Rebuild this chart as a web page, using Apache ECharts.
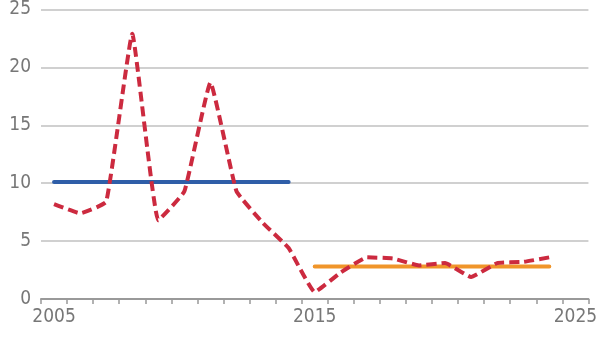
<!DOCTYPE html>
<html><head><meta charset="utf-8">
<script src="https://cdn.jsdelivr.net/npm/echarts@6/dist/echarts.min.js"></script>
<style>html,body{margin:0;padding:0;background:#fff}#c{width:600px;height:337px}</style>
</head><body><div id="c"></div>
<script>
const years = ['2005','2006','2007','2008','2009','2010','2011','2012','2013','2014','2015','2016','2017','2018','2019','2020','2021','2022','2023','2024','2025'];
const annual = [8.2,7.4,8.4,22.9,6.8,9.3,18.7,9.3,6.6,4.4,0.6,2.3,3.6,3.5,2.9,3.1,1.9,3.1,3.2,3.6,null];
const avgFirst = [10.1,10.1,10.1,10.1,10.1,10.1,10.1,10.1,10.1,10.1,null,null,null,null,null,null,null,null,null,null,null];
const avgSecond = [null,null,null,null,null,null,null,null,null,null,2.8,2.8,2.8,2.8,2.8,2.8,2.8,2.8,2.8,2.8,null];
const yTicks = [0,5,10,15,20,25];

const font = '"DejaVu Sans Condensed", "Roboto Condensed", Roboto, sans-serif';
const chart = echarts.init(document.getElementById('c'));
chart.setOption({
  animation: false,
  grid: {left: 41, right: 6, top: 7, bottom: 38},
  xAxis: {
    type: 'category', data: years, boundaryGap: true,
    axisLine: {lineStyle: {color: '#999', width: 2}},
    axisTick: {show: true, length: 5, interval: 0, lineStyle: {color: '#999', width: 1.5}},
    axisLabel: {interval: 9, color: '#777', fontFamily: font, fontSize: 19, margin: 9},
    splitLine: {show: false}
  },
  yAxis: {
    type: 'value', min: yTicks[0], max: yTicks[yTicks.length-1], interval: 5,
    axisLine: {show: false}, axisTick: {show: false},
    axisLabel: {color: '#777', fontFamily: font, fontSize: 19, margin: 10},
    splitLine: {lineStyle: {color: '#d0d0d0', width: 2}}
  },
  series: [
    {type: 'line', data: avgFirst, symbol: 'none', lineStyle: {color: '#2f5ea8', width: 4, cap: 'round'}, z: 2},
    {type: 'line', data: avgSecond, symbol: 'none', lineStyle: {color: '#f0952a', width: 4, cap: 'round'}, z: 2},
    {type: 'line', data: annual, symbol: 'none', smooth: 0.1,
     lineStyle: {color: '#cc2a3f', width: 4, type: [10, 5]}, z: 3}
  ]
});
</script></body></html>
